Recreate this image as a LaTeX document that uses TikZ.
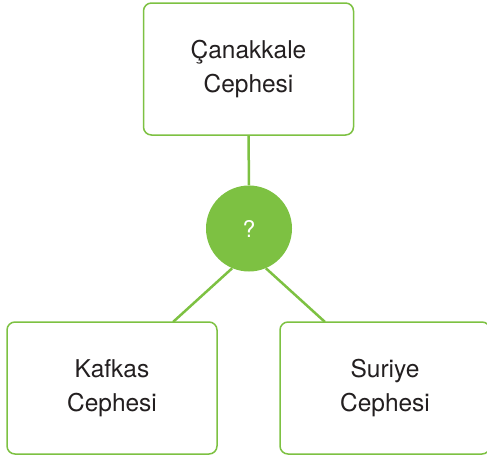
\documentclass[tikz,border=0pt]{standalone}
\usepackage{fontspec}
\setmainfont{TeX Gyre Heros}
\definecolor{leaf}{HTML}{7DC142}
\definecolor{txt}{HTML}{231F20}
\begin{document}
\begin{tikzpicture}[x=1pt,y=-1pt,
  box/.style={draw=leaf, line width=1.5pt, rounded corners=8pt, fill=white,
    minimum width=210pt, minimum height=132pt, inner sep=0pt,
    align=center, text=txt, font=\fontsize{24.5}{34}\selectfont},
  hub/.style={circle, fill=leaf, minimum size=86pt, inner sep=0pt,
    text=white, font=\fontsize{23}{28}\selectfont},
  link/.style={draw=leaf, line width=2.5pt}]
\useasboundingbox (0,0) rectangle (487,458);
\clip (0,0) rectangle (487,458);
\node[box] (top) at (248.5,69) {Çanakkale\\Cephesi};
\node[box] (left) at (112,388) {Kafkas\\Cephesi};
\node[box] (right) at (385,388) {Suriye\\Cephesi};
\node[hub] (q) at (249,228.5) {?};
\coordinate (lt) at (173,322);
\coordinate (rt) at (325,322);
\draw[link] (top.south) -- (q.north);
\draw[link] (q.-113) -- (lt);
\draw[link] (q.-67) -- (rt);
\end{tikzpicture}
\end{document}
